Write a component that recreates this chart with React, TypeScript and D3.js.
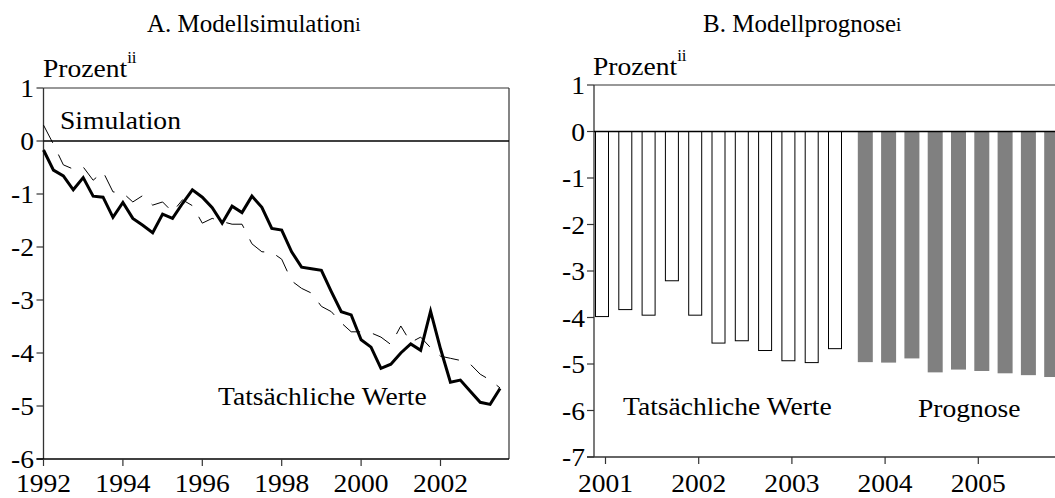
import React from 'react';
import * as d3 from 'd3';

// ---------- Panel A data (quarterly, starting 1992 Q1) ----------
const lineStartYear = 1992;
const actualValues = [
  -0.17, -0.55, -0.66, -0.92, -0.69, -1.04, -1.06, -1.44, -1.16, -1.46, -1.59, -1.73,
  -1.38, -1.46, -1.18, -0.92, -1.06, -1.26, -1.55, -1.23, -1.35, -1.04, -1.25, -1.65,
  -1.68, -2.09, -2.38, -2.41, -2.44, -2.84, -3.22, -3.28, -3.75, -3.89, -4.29, -4.21,
  -4.0, -3.83, -3.95, -3.21, -3.92, -4.55, -4.51, -4.72, -4.93, -4.97, -4.67,
];
const simulationValues = [
  0.3, -0.06, -0.45, -0.53, -0.49, -0.74, -0.58, -0.96, -0.98, -1.15, -1.03, -1.21,
  -1.15, -1.34, -1.11, -1.22, -1.55, -1.46, -1.52, -1.57, -1.57, -1.94, -2.09, -2.1,
  -2.23, -2.64, -2.78, -2.87, -3.12, -3.22, -3.43, -3.6, -3.6, -3.62, -3.7, -3.84,
  -3.49, -3.8, -3.7, -3.9, -4.06, -4.1, -4.14, -4.21, -4.4, -4.51, -4.66,
];
const leftYTicks = [1, 0, -1, -2, -3, -4, -5, -6];
const leftXTicks = [1992, 1994, 1996, 1998, 2000, 2002];

// ---------- Panel B data (quarterly, starting 2001 Q1) ----------
const actualBars = [-3.98, -3.83, -3.95, -3.21, -3.95, -4.55, -4.5, -4.71, -4.93, -4.97, -4.67];
const forecastBars = [-4.96, -4.97, -4.88, -5.18, -5.12, -5.15, -5.2, -5.24, -5.28];
const rightYTicks = [1, 0, -1, -2, -3, -4, -5, -6, -7];
const rightXTickLabels = ['2001', '2002', '2003', '2004', '2005'];

const FONT = '"Liberation Serif", "Times New Roman", "DejaVu Serif", serif';
const STRETCH = 1.06;

type TProps = {
  x: number;
  y: number;
  size?: number;
  anchor?: 'start' | 'middle' | 'end';
  children: React.ReactNode;
};

function T({ x, y, size = 26, anchor = 'start', children }: TProps) {
  return (
    <text
      transform={`translate(${x},${y}) scale(${STRETCH},1)`}
      fontSize={size}
      textAnchor={anchor}
      fill="#000"
      style={{ fontFamily: FONT }}
    >
      {children}
    </text>
  );
}

export default function App() {
  // Panel A scales
  const xL = d3.scaleLinear().domain([1992, 2002]).range([43.5, 440.5]);
  const yL = d3.scaleLinear().domain([1, -6]).range([88, 459]);
  const leftRight = 509;
  const lineGen = d3
    .line<number>()
    .x((_, i) => xL(lineStartYear + i / 4))
    .y((d) => yL(d));

  // Panel B scales
  const xR = d3.scaleLinear().domain([0, 4]).range([605.5, 698.7]);
  const yR = d3.scaleLinear().domain([1, -7]).range([85, 457]);
  const rightLeft = 594;
  const rightEnd = 1060;

  const axisColor = '#333';
  const fmt = (t: number) => (t < 0 ? '-' + Math.abs(t) : String(t));

  return (
    <svg
      width={1055}
      height={498}
      style={{ position: 'absolute', left: 0, top: 0, background: '#fff', fontFamily: FONT }}
    >
      {/* ---------------- Panel A ---------------- */}
      <text x={147} y={32} fontSize={25} fill="#000" style={{ fontFamily: FONT }}>
        A. Modellsimulation<tspan fontSize={19} dy={-1}>i</tspan>
      </text>
      <T x={43} y={77}>
        Prozent
        <tspan fontSize={16} dy={-14}>ii</tspan>
      </T>

      {/* frame */}
      <line x1={xL(1992)} x2={leftRight} y1={yL(1)} y2={yL(1)} stroke={axisColor} strokeWidth={1.2} />
      <line x1={leftRight} x2={leftRight} y1={yL(1)} y2={yL(-6)} stroke={axisColor} strokeWidth={1.2} />
      {/* y axis */}
      <line x1={xL(1992)} x2={xL(1992)} y1={yL(1)} y2={yL(-6)} stroke={axisColor} strokeWidth={1.3} />
      {leftYTicks.map((t) => (
        <g key={'ly' + t}>
          <line x1={xL(1992) - 7} x2={xL(1992)} y1={yL(t)} y2={yL(t)} stroke={axisColor} strokeWidth={1.2} />
          <T x={34} y={yL(t) + 9} anchor="end">
            {fmt(t)}
          </T>
        </g>
      ))}
      {/* x axis */}
      <line x1={xL(1992) - 7} x2={leftRight} y1={yL(-6)} y2={yL(-6)} stroke="#000" strokeWidth={1.3} />
      {leftXTicks.map((t) => (
        <g key={'lx' + t}>
          <line x1={xL(t)} x2={xL(t)} y1={yL(-6)} y2={yL(-6) + 7} stroke={axisColor} strokeWidth={1.2} />
          <T x={xL(t)} y={492} anchor="middle">
            {t}
          </T>
        </g>
      ))}
      {/* zero line */}
      <line x1={xL(1992)} x2={leftRight} y1={yL(0)} y2={yL(0)} stroke="#000" strokeWidth={1.3} />

      {/* series */}
      <path
        d={lineGen(simulationValues) || ''}
        fill="none"
        stroke="#000"
        strokeWidth={1}
        strokeDasharray="20,13"
      />
      <path
        d={lineGen(actualValues) || ''}
        fill="none"
        stroke="#000"
        strokeWidth={3}
        strokeLinejoin="miter"
      />
      <T x={60} y={129}>Simulation</T>
      <T x={218} y={405}>Tatsächliche Werte</T>

      {/* ---------------- Panel B ---------------- */}
      <text x={703} y={32} fontSize={25} fill="#000" style={{ fontFamily: FONT }}>
        B. Modellprognose<tspan fontSize={19} dy={-1}>i</tspan>
      </text>
      <T x={593} y={75}>
        Prozent
        <tspan fontSize={16} dy={-14}>ii</tspan>
      </T>

      {/* top frame */}
      <line x1={rightLeft} x2={rightEnd} y1={yR(1)} y2={yR(1)} stroke={axisColor} strokeWidth={1.2} />

      {/* bars */}
      {actualBars.map((v, i) => (
        <rect
          key={'ab' + i}
          x={xR(i) - 3.5 - 6.5}
          y={yR(0)}
          width={13}
          height={yR(v) - yR(0)}
          fill="#fff"
          stroke="#000"
          strokeWidth={1}
        />
      ))}
      {forecastBars.map((v, i) => {
        const idx = i + actualBars.length;
        return (
          <rect
            key={'fb' + i}
            x={xR(idx) + 3.5 - 7.5}
            y={yR(0)}
            width={15}
            height={yR(v) - yR(0)}
            fill="#808080"
          />
        );
      })}

      {/* y axis */}
      <line x1={rightLeft} x2={rightLeft} y1={yR(1)} y2={yR(-7)} stroke={axisColor} strokeWidth={1.3} />
      {rightYTicks.map((t) => (
        <g key={'ry' + t}>
          <line x1={rightLeft - 7} x2={rightLeft} y1={yR(t)} y2={yR(t)} stroke={axisColor} strokeWidth={1.2} />
          <T x={585} y={yR(t) + 9} anchor="end">
            {fmt(t)}
          </T>
        </g>
      ))}
      {/* x axis */}
      <line x1={rightLeft - 7} x2={rightEnd} y1={yR(-7)} y2={yR(-7)} stroke={axisColor} strokeWidth={1.3} />
      {rightXTickLabels.map((lab, k) => (
        <g key={'rx' + lab}>
          <line x1={xR(4 * k)} x2={xR(4 * k)} y1={yR(-7)} y2={yR(-7) + 7} stroke={axisColor} strokeWidth={1.2} />
          <T x={xR(4 * k)} y={492} anchor="middle">
            {lab}
          </T>
        </g>
      ))}
      {/* zero line */}
      <line x1={rightLeft} x2={rightEnd} y1={yR(0)} y2={yR(0)} stroke="#000" strokeWidth={1.3} />

      <T x={623} y={415}>Tatsächliche Werte</T>
      <T x={918} y={417}>Prognose</T>
    </svg>
  );
}
